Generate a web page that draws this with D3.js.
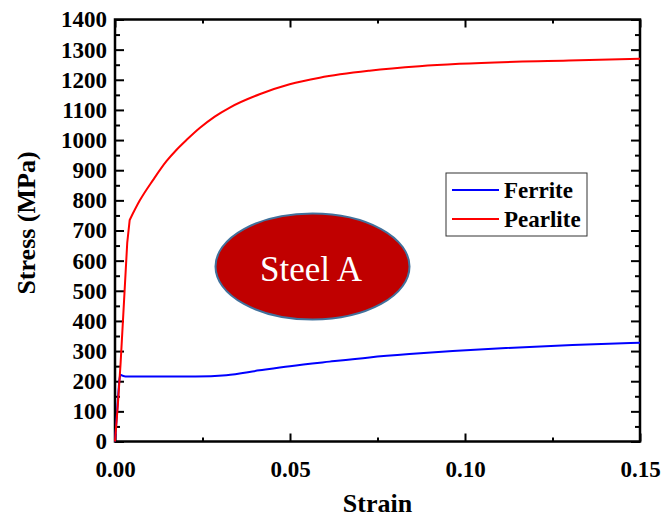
<!DOCTYPE html>
<meta charset="utf-8">
<style>
body { margin: 0; background: #fff; }
text { font-family: "Liberation Serif", "Times New Roman", serif; }
.axis path, .axis line { stroke: #000; }
.axis text { font-size: 23px; font-weight: bold; fill: #000; }
</style>
<body>
<script src="https://d3js.org/d3.v7.min.js"></script>
<script>
var width = 666,
    height = 517;

// strain / stress
var pearliteStrain = [0, 0.0008, 0.0016, 0.0026, 0.0035, 0.0042, 0.0071, 0.0109, 0.0147, 0.0176, 0.0204, 0.0242, 0.0285, 0.0328, 0.0413, 0.0499, 0.0585, 0.0727, 0.087, 0.0984, 0.1297, 0.15];
var pearliteStress = [0, 120, 260, 470, 660, 735, 800, 868, 930, 968, 1000, 1040, 1078, 1108, 1152, 1185, 1207, 1230, 1245, 1253, 1264, 1270];

var ferriteStrain = [0, 0.0012, 0.0015, 0.003, 0.023, 0.0318, 0.0413, 0.05, 0.0613, 0.0727, 0.0841, 0.0965, 0.1117, 0.1307, 0.15];
var ferriteStress = [0, 200, 222, 216, 216, 220, 236, 250, 265, 279, 290, 300, 310, 320, 328];

// index of the yield point (end of the elastic part) in each series
var series = [
  { name: "Ferrite", color: "#0000ff", x: ferriteStrain, y: ferriteStress, yieldAt: 2 },
  { name: "Pearlite", color: "#ff0000", x: pearliteStrain, y: pearliteStress, yieldAt: 5 }
];

var xTicks = [0, 0.05, 0.10, 0.15];
var yTicks = d3.range(0, 1401, 100);

var pLeft = 115, pRight = 640, pTop = 19.5, pBottom = 441.5;

var x = d3.scaleLinear().domain([0, 0.15]).range([pLeft, pRight]);
var y = d3.scaleLinear().domain([0, 1400]).range([pBottom, pTop]);

var svg = d3.select("body").append("svg")
    .attr("width", width)
    .attr("height", height);

// minor ticks on all four sides
function minor(axis, ticks, size) {
  return axis.tickValues(ticks).tickSize(-size).tickFormat("");
}
var xMinor = d3.range(0.025, 0.15, 0.05);
var yMinor = d3.range(50, 1400, 100);

svg.append("g").attr("class", "axis").attr("transform", "translate(0," + pBottom + ")")
    .call(minor(d3.axisBottom(x), xMinor, 4));
svg.append("g").attr("class", "axis").attr("transform", "translate(0," + pTop + ")")
    .call(minor(d3.axisTop(x), xMinor, 4));
svg.append("g").attr("class", "axis").attr("transform", "translate(" + pLeft + ",0)")
    .call(minor(d3.axisLeft(y), yMinor, 5));
svg.append("g").attr("class", "axis").attr("transform", "translate(" + pRight + ",0)")
    .call(minor(d3.axisRight(y), yMinor, 5));

// major ticks
svg.append("g").attr("class", "axis").attr("transform", "translate(0," + pTop + ")")
    .call(d3.axisTop(x).tickValues(xTicks).tickSize(-8).tickFormat(""));
svg.append("g").attr("class", "axis").attr("transform", "translate(" + pRight + ",0)")
    .call(d3.axisRight(y).tickValues(yTicks).tickSize(-9).tickFormat(""));

svg.append("g").attr("class", "axis").attr("transform", "translate(0," + pBottom + ")")
    .call(d3.axisBottom(x).tickValues(xTicks).tickSize(-8).tickPadding(19).tickFormat(d3.format(".2f")));
svg.append("g").attr("class", "axis").attr("transform", "translate(" + pLeft + ",0)")
    .call(d3.axisLeft(y).tickValues(yTicks).tickSize(-9).tickPadding(8).tickFormat(d3.format("d")));

svg.selectAll(".axis line").attr("stroke-width", 2);
svg.selectAll(".axis path").attr("stroke-width", 0);

// frame
svg.append("rect")
    .attr("x", pLeft).attr("y", pTop)
    .attr("width", pRight - pLeft).attr("height", pBottom - pTop)
    .attr("fill", "none").attr("stroke", "#000").attr("stroke-width", 2.5);

// curves: straight elastic part, smooth plastic part
var elastic = d3.line()
    .x(function(d) { return x(d[0]); })
    .y(function(d) { return y(d[1]); });
var plastic = d3.line()
    .x(function(d) { return x(d[0]); })
    .y(function(d) { return y(d[1]); })
    .curve(d3.curveMonotoneX);

svg.selectAll(".curve")
  .data(series)
  .enter().append("path")
    .attr("class", "curve")
    .attr("fill", "none")
    .attr("stroke", function(s) { return s.color; })
    .attr("stroke-width", 2)
    .attr("stroke-linejoin", "round")
    .attr("d", function(s) {
      var pts = d3.zip(s.x, s.y);
      return elastic(pts.slice(0, s.yieldAt + 1)) + plastic(pts.slice(s.yieldAt)).replace(/^M[^A-Za-z]*/, "");
    });

// axis titles
svg.append("text")
    .attr("x", (pLeft + pRight) / 2).attr("y", 512)
    .attr("text-anchor", "middle")
    .attr("font-size", 26).attr("font-weight", "bold")
    .text("Strain");

svg.append("text")
    .attr("transform", "translate(35,223) rotate(-90)")
    .attr("text-anchor", "middle")
    .attr("font-size", 26).attr("font-weight", "bold")
    .text("Stress (MPa)");

// legend
var legend = svg.append("g").attr("transform", "translate(446,173)");
legend.append("rect")
    .attr("width", 141).attr("height", 63)
    .attr("fill", "#fff").attr("stroke", "#333").attr("stroke-width", 1);
var item = legend.selectAll(".item")
  .data(series)
  .enter().append("g")
    .attr("transform", function(d, i) { return "translate(0," + (17 + i * 29) + ")"; });
item.append("line")
    .attr("x1", 6).attr("x2", 53)
    .attr("stroke", function(d) { return d.color; })
    .attr("stroke-width", 2);
item.append("text")
    .attr("x", 58).attr("y", 8)
    .attr("font-size", 23).attr("font-weight", "bold")
    .text(function(d) { return d.name; });

// "Steel A" label
svg.append("ellipse")
    .attr("cx", 312.5).attr("cy", 266.5)
    .attr("rx", 97).attr("ry", 53)
    .attr("fill", "#c00000")
    .attr("stroke", "#41719c").attr("stroke-width", 2);
svg.append("text")
    .attr("x", 311).attr("y", 281)
    .attr("text-anchor", "middle")
    .attr("font-size", 35).attr("fill", "#fff")
    .text("Steel A");
</script>
</body>
</html>
